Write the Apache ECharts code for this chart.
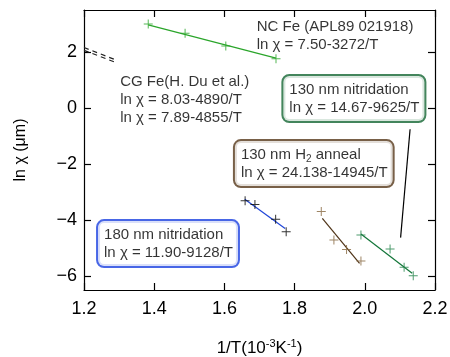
<!DOCTYPE html>
<html>
<head>
<meta charset="utf-8">
<script src="https://cdn.jsdelivr.net/npm/echarts@6/dist/echarts.min.js"></script>
<style>
  html, body { margin: 0; padding: 0; background: #fff; }
  #chart { width: 450px; height: 357px; }
</style>
</head>
<body>
<div id="chart"></div>
<script>
// Arrhenius data: x = 1/T (10^-3 K^-1), y = ln chi (um)
const ncFePts    = [[1.383, 3.00], [1.488, 2.67], [1.604, 2.21], [1.747, 1.76]];
const ncFeFit    = [[1.383, 2.97], [1.747, 1.78]];
const cgFeFitA   = [[1.20, 2.16], [1.29, 1.72]];
const cgFeFitB   = [[1.20, 2.06], [1.29, 1.63]];
const nit180Pts  = [[1.659, -3.31], [1.687, -3.45], [1.746, -3.97], [1.776, -4.42]];
const nit180Fit  = [[1.658, -3.26], [1.773, -4.30]];
const h2Pts      = [[1.876, -3.70], [1.912, -4.71], [1.948, -5.05], [1.989, -5.46]];
const h2Fit      = [[1.879, -3.94], [1.985, -5.55]];
const nit130Pts  = [[1.989, -4.54], [2.072, -5.04], [2.112, -5.69], [2.138, -5.99]];
const nit130Fit  = [[1.989, -4.50], [2.135, -5.90]];
const calloutPts = [[2.129, -0.76], [2.102, -4.63]];
const xTicks = [1.2, 1.4, 1.6, 1.8, 2.0, 2.2];
const yTicks = [-6, -4, -2, 0, 2];

const FONT = '"Liberation Sans", Arial, sans-serif';
const PLUS = 'path://M4,0h1v4h4v1h-4v4h-1v-4h-4v-1h4z';

function pts(data, color) {
  return {
    type: 'scatter', data: data, symbol: PLUS, symbolSize: 9,
    itemStyle: { color: color }, z: 4, silent: true
  };
}
function fit(data, color, dashed) {
  return {
    type: 'line', data: data, showSymbol: false, symbol: 'none', z: 3, silent: true,
    lineStyle: { color: color, width: 1.2, type: dashed ? [5, 4] : 'solid' }
  };
}
// text block anchored by its top-left corner at a data coordinate
function note(at, text, box) {
  const label = {
    show: true, position: [0, 0], formatter: text,
    fontFamily: FONT, fontSize: 15, lineHeight: 18, color: '#000',
    rich: {
      sub: { fontFamily: FONT, fontSize: 10, color: '#000', padding: [8, 0, 0, 0] }
    }
  };
  if (box) {
    Object.assign(label, {
      borderColor: box, borderWidth: 2, borderRadius: 6,
      padding: [5, 5, 4, 6], backgroundColor: '#fff'
    });
  }
  return {
    type: 'scatter', data: [{ value: at }], symbolSize: 0, z: 6, silent: true,
    label: label
  };
}

const axisCommon = {
  type: 'value', splitLine: { show: false },
  axisLine: { show: true, onZero: false, lineStyle: { color: '#000', width: 1.2 } },
  axisTick: { show: true, inside: true, length: 7, lineStyle: { color: '#000', width: 1.2 } }
};

const chart = echarts.init(document.getElementById('chart'), null, { renderer: 'canvas' });
chart.setOption({
  animation: false,
  backgroundColor: '#fff',
  grid: { left: 84, right: 15, top: 10, bottom: 67, containLabel: false, outerBoundsMode: 'none' },
  xAxis: [
    Object.assign({}, axisCommon, {
      position: 'bottom', min: 1.2, max: 2.2, interval: 0.2,
      axisLabel: {
        margin: 10, fontFamily: FONT, fontSize: 18, color: '#000',
        customValues: xTicks, formatter: v => v.toFixed(1)
      },
      axisTick: Object.assign({}, axisCommon.axisTick, { customValues: xTicks }),
      name: '1/T(10{sup|-3}K{sup|-1})', nameLocation: 'middle', nameGap: 48,
      nameTextStyle: {
        fontFamily: FONT, fontSize: 17, color: '#000',
        rich: { sup: { fontFamily: FONT, fontSize: 11, color: '#000', padding: [0, 0, 9, 0] } }
      }
    }),
    Object.assign({}, axisCommon, {
      position: 'top', min: 1.2, max: 2.2, interval: 0.2,
      axisLabel: { show: false },
      axisTick: Object.assign({}, axisCommon.axisTick, { customValues: xTicks })
    })
  ],
  yAxis: [
    Object.assign({}, axisCommon, {
      position: 'left', min: -6.5, max: 3.5,
      axisLabel: {
        margin: 7, fontFamily: FONT, fontSize: 18, color: '#000',
        customValues: yTicks, formatter: v => String(v).replace('-', '\u2212')
      },
      axisTick: Object.assign({}, axisCommon.axisTick, { customValues: yTicks }),
      name: 'ln \u03c7 (\u03bcm)', nameLocation: 'middle', nameGap: 55, nameRotate: 90,
      nameTextStyle: { fontFamily: FONT, fontSize: 16, color: '#000' }
    }),
    Object.assign({}, axisCommon, {
      position: 'right', min: -6.5, max: 3.5,
      axisLabel: { show: false },
      axisTick: Object.assign({}, axisCommon.axisTick, { customValues: yTicks })
    })
  ],
  series: [
    fit(ncFeFit, '#2aa52a'),
    pts(ncFePts, '#2aa52a'),
    fit(cgFeFitA, '#222', true),
    fit(cgFeFitB, '#222', true),
    fit(nit180Fit, '#1f45d8'),
    pts(nit180Pts, '#000'),
    fit(h2Fit, '#4e3317'),
    pts(h2Pts, '#86673f'),
    fit(nit130Fit, '#127538'),
    pts(nit130Pts, '#22834a'),
    fit(calloutPts, '#000'),
    note([1.692, 3.225], 'NC Fe (APL89 021918)\nln \u03c7 = 7.50-3272/T'),
    note([1.303, 1.25], 'CG Fe(H. Du et al.)\nln \u03c7 = 8.03-4890/T\nln \u03c7 = 7.89-4855/T'),
    note([1.768, 1.143], '130 nm nitridation\nln \u03c7 = 14.67-9625/T', '#146633'),
    note([1.630, -1.18], '130 nm H{sub|2} anneal\nln \u03c7 = 24.138-14945/T', '#56381a'),
    note([1.240, -4.04], '180 nm nitridation\nln \u03c7 = 11.90-9128/T', '#1a40e0')
  ]
});
</script>
</body>
</html>
